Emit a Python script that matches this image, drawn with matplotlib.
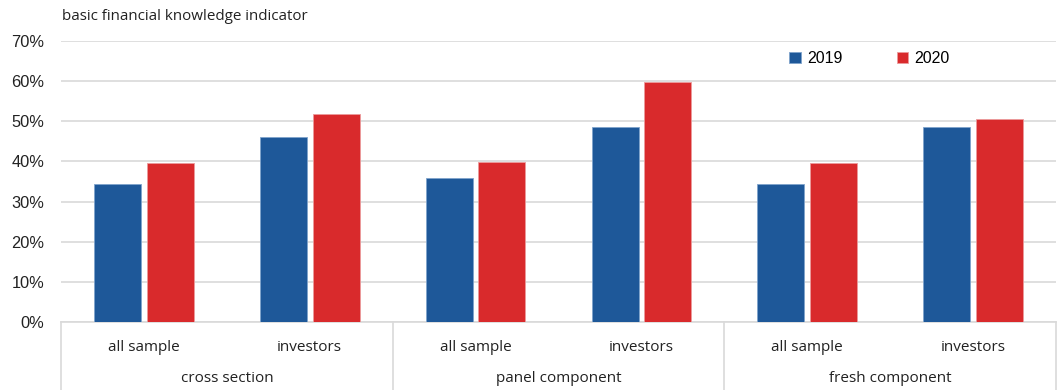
import matplotlib
matplotlib.use("Agg")
import matplotlib.pyplot as plt
import numpy as np
from matplotlib.transforms import blended_transform_factory

groups = ["cross section", "panel component", "fresh component"]
subcats = ["all sample", "investors", "all sample", "investors", "all sample", "investors"]
years = ["2019", "2020"]
vals_2019 = [34.5, 46.2, 35.9, 48.7, 34.3, 48.7]
vals_2020 = [39.5, 51.8, 39.9, 59.9, 39.6, 50.6]
yticks = [0, 10, 20, 30, 40, 50, 60, 70]

blue = "#1E5899"
red = "#D92A2C"

fig = plt.figure(figsize=(10.62, 3.9), dpi=100)
ax = fig.add_axes([61/1062, 1-322/390, (1056-61)/1062, (322-41)/390])

x = np.arange(len(subcats))
w = 0.283
off = 0.159
ax.bar(x - off, vals_2019, width=w, color=blue, edgecolor="#7fa3cc", linewidth=0.6, label=years[0], zorder=3)
ax.bar(x + off, vals_2020, width=w, color=red, edgecolor="#ec9a9b", linewidth=0.6, label=years[1], zorder=3)

ax.set_xlim(-0.5, len(subcats) - 0.5)
ax.set_ylim(0, 70)
ax.set_yticks(yticks)
ax.set_yticklabels([f"{v}%" for v in yticks], fontsize=11.8, family="Liberation Sans", color="#222222")
ax.yaxis.grid(True, color="#d9d9d9", linewidth=1.2, zorder=0)
ax.set_axisbelow(True)
for s in ["top", "right", "left"]:
    ax.spines[s].set_visible(False)
ax.spines["bottom"].set_color("#d9d9d9")
ax.spines["bottom"].set_linewidth(1.2)
ax.tick_params(axis="y", length=0, pad=12)
ax.tick_params(axis="x", length=0, pad=13)
ax.set_xticks(x)
ax.set_xticklabels(subcats, fontsize=11, family="Open Sans", color="#222222")

trans = blended_transform_factory(ax.transData, ax.transAxes)
ylow = -(390 - 322) / 281
for b in [-0.5, 1.5, 3.5, 5.5]:
    ax.plot([b, b], [0, ylow], transform=trans, color="#d9d9d9", linewidth=1.2, clip_on=False)
for i, g in enumerate(groups):
    ax.text(2 * i + 0.5, -(378 - 322) / 281, g, transform=trans, ha="center", va="center",
            fontsize=11, family="Open Sans", color="#222222")

fig.text(62/1062, 1 - 17/390, "basic financial knowledge indicator", ha="left", va="center",
         fontsize=10.9, family="Open Sans", color="#222222")

leg = ax.legend(loc="upper left", bbox_to_anchor=((775-61)/995, 1 + (4)/281), ncol=2, frameon=False,
                prop={"family": "Liberation Sans", "size": 11.5},
                handlelength=0.7, handleheight=0.7, handletextpad=0.4, columnspacing=3.4)

fig.savefig("out.png", dpi=100)
